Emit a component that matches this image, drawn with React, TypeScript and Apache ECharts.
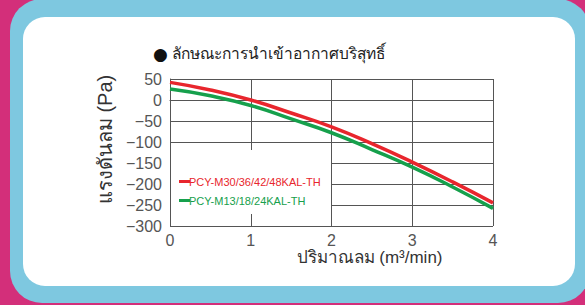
import React, { useEffect, useRef } from "react";
import * as echarts from "echarts";

const xValues = [0, 0.5, 1, 1.5, 2, 2.5, 3, 3.5, 4];
const redValues = [42, 24, 0, -31, -64, -104, -148, -195, -245];
const greenValues = [26, 10, -13, -45, -78, -118, -160, -207, -258];
const seriesNames = ["PCY-M30/36/42/48KAL-TH", "PCY-M13/18/24KAL-TH"];
const seriesColors = ["#e8262d", "#16a04c"];
const titleText = "ลักษณะการนำเข้าอากาศบริสุทธิ์";
const yAxisName = "แรงดันลม (Pa)";
const xAxisName = "ปริมาณลม (m³/min)";

const FONT = "'Liberation Sans', 'Noto Sans', sans-serif";

export default function App() {
  const ref = useRef<HTMLDivElement>(null);
  useEffect(() => {
    document.body.style.margin = "0";
    if (!ref.current) return;
    const chart = echarts.init(ref.current, null, { renderer: "svg" });
    const toPairs = (vals: number[]) => xValues.map((x, i) => [x, vals[i]]);
    chart.setOption({
      animation: false,
      title: {
        text: "{b|●}{t| " + titleText + "}",
        left: 148,
        top: 40,
        textStyle: {
          fontWeight: "normal",
          rich: {
            b: { fontFamily: "'DejaVu Sans', sans-serif", fontSize: 17, fontWeight: "normal", color: "#111", verticalAlign: "middle" },
            t: { fontFamily: FONT, fontSize: 15.5, fontWeight: "normal", color: "#222", verticalAlign: "middle" },
          },
        },
      },
      grid: { left: 170, right: 92, top: 79, bottom: 79 },
      legend: {
        orient: "vertical",
        left: 174,
        top: 171,
        itemGap: 8,
        itemWidth: 11,
        itemHeight: 3,
        icon: "rect",
        textStyle: { fontFamily: FONT, fontSize: 11, padding: [0, 0, 0, -6] },
        data: seriesNames.map((n, i) => ({ name: n, textStyle: { color: seriesColors[i] } })),
      },
      graphic: [
        {
          type: "rect",
          z: 1,
          shape: { x: 171, y: 150, width: 160, height: 64 },
          style: { fill: "#ffffff" },
        },
      ],
      xAxis: {
        type: "value",
        min: 0,
        max: 4,
        interval: 1,
        name: xAxisName,
        nameLocation: "middle",
        nameGap: 22,
        nameTextStyle: { fontFamily: FONT, fontSize: 17, color: "#333", padding: [0, 0, 0, 76] },
        axisLine: { show: true, lineStyle: { color: "#555", width: 1 } },
        axisTick: { show: false },
        axisLabel: { fontFamily: FONT, fontSize: 16, color: "#555", margin: 6 },
        splitLine: { show: true, lineStyle: { color: "#555", width: 1 } },
      },
      yAxis: {
        type: "value",
        min: -300,
        max: 50,
        interval: 50,
        name: yAxisName,
        nameLocation: "middle",
        nameGap: 53,
        nameTextStyle: { fontFamily: FONT, fontSize: 20, color: "#333", padding: [0, 0, 0, 26] },
        axisLine: { show: true, lineStyle: { color: "#555", width: 1 } },
        axisTick: { show: false },
        axisLabel: {
          fontFamily: FONT,
          fontSize: 16,
          color: "#555",
          margin: 8,
          formatter: (v: number) => String(v).replace("-", "−"),
        },
        splitLine: { show: true, lineStyle: { color: "#555", width: 1 } },
      },
      series: [
        {
          name: seriesNames[0],
          type: "line",
          smooth: true,
          symbol: "none",
          data: toPairs(redValues),
          lineStyle: { color: seriesColors[0], width: 3.5 },
          itemStyle: { color: seriesColors[0] },
          z: 3,
        },
        {
          name: seriesNames[1],
          type: "line",
          smooth: true,
          symbol: "none",
          data: toPairs(greenValues),
          lineStyle: { color: seriesColors[1], width: 3.5 },
          itemStyle: { color: seriesColors[1] },
          z: 2,
        },
      ],
    });
    return () => chart.dispose();
  }, []);

  return (
    <div style={{ position: "relative", width: 585, height: 305, background: "#d32f7a", overflow: "hidden" }}>
      <div
        style={{
          position: "absolute",
          left: 10,
          top: -1,
          width: 580,
          height: 304,
          background: "#7ec8e0",
          borderRadius: 32,
        }}
      />
      <div
        style={{
          position: "absolute",
          left: 23,
          top: 17,
          width: 552,
          height: 269,
          background: "#ffffff",
          borderRadius: 22,
        }}
      />
      <div ref={ref} style={{ position: "absolute", left: 0, top: 0, width: 585, height: 305 }} />
    </div>
  );
}
